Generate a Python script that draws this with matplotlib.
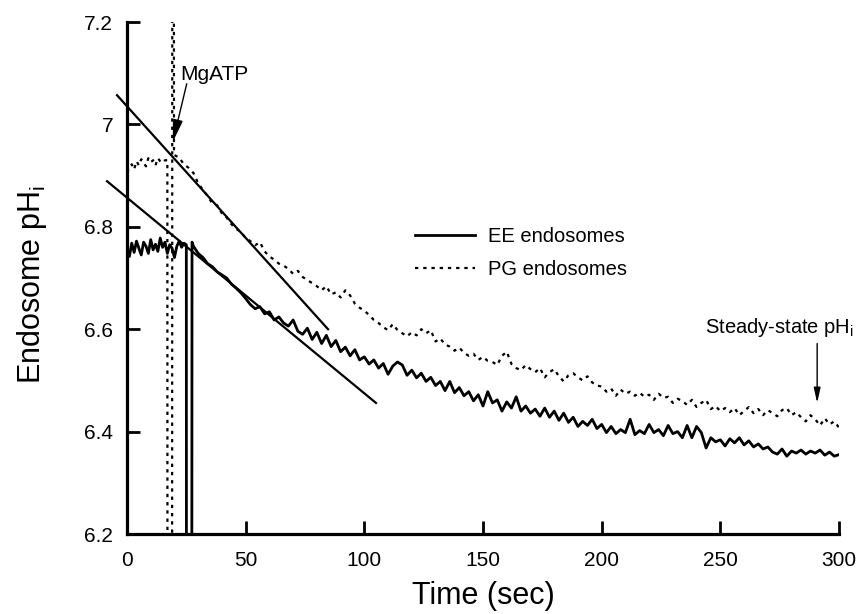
import numpy as np
import matplotlib
matplotlib.use("Agg")
import matplotlib.pyplot as plt

plt.rcParams['font.family'] = ['Liberation Sans', 'DejaVu Sans']
plt.rcParams['mathtext.fontset'] = 'custom'
plt.rcParams['mathtext.rm'] = 'Liberation Sans'
plt.rcParams['mathtext.it'] = 'Liberation Sans:italic'

# EE endosomes (solid): before MgATP (1 s steps), mixing artifact, after (2 s steps)
ee_pre = [6.755, 6.742, 6.768, 6.750, 6.772, 6.758, 6.745, 6.770, 6.762, 6.748,
          6.775, 6.755, 6.766, 6.752, 6.778, 6.760, 6.770, 6.748, 6.765, 6.758,
          6.740, 6.762, 6.772, 6.760, 6.768]
ee_spike_t = [25.0, 25.05, 27.3, 27.4]
ee_spike_ph = [6.765, 6.0, 6.0, 6.77]
ee_post = [6.762, 6.748, 6.740, 6.728, 6.722, 6.712, 6.706, 6.700, 6.688, 6.680,
           6.671, 6.660, 6.648, 6.640, 6.644, 6.630, 6.634, 6.618, 6.624, 6.612,
           6.606, 6.618, 6.596, 6.590, 6.602, 6.580, 6.594, 6.572, 6.588, 6.566,
           6.578, 6.556, 6.565, 6.548, 6.560, 6.540, 6.546, 6.532, 6.540, 6.524,
           6.533, 6.512, 6.528, 6.536, 6.530, 6.510, 6.520, 6.505, 6.514, 6.498,
           6.506, 6.490, 6.498, 6.480, 6.498, 6.476, 6.486, 6.470, 6.478, 6.460,
           6.472, 6.450, 6.478, 6.456, 6.462, 6.440, 6.458, 6.446, 6.468, 6.440,
           6.450, 6.436, 6.444, 6.430, 6.446, 6.428, 6.440, 6.422, 6.436, 6.418,
           6.428, 6.410, 6.420, 6.412, 6.424, 6.406, 6.414, 6.398, 6.410, 6.396,
           6.404, 6.398, 6.424, 6.394, 6.402, 6.396, 6.414, 6.398, 6.404, 6.392,
           6.412, 6.396, 6.400, 6.388, 6.412, 6.388, 6.410, 6.398, 6.368, 6.388,
           6.380, 6.384, 6.372, 6.386, 6.378, 6.388, 6.374, 6.382, 6.370, 6.376,
           6.366, 6.370, 6.360, 6.356, 6.366, 6.352, 6.362, 6.358, 6.364, 6.356,
           6.362, 6.358, 6.364, 6.354, 6.360, 6.352, 6.355]

# PG endosomes (dotted)
pg_pre = [6.906, 6.915, 6.922, 6.912, 6.928, 6.920, 6.932, 6.925, 6.918, 6.934,
          6.926, 6.930, 6.920, 6.934, 6.928, 6.925, 6.930]
pg_spike_t = [17.0, 17.05, 19.0, 19.1, 19.7, 19.8]
pg_spike_ph = [6.93, 6.0, 6.0, 7.6, 7.6, 6.945]
pg_post = [6.940, 6.935, 6.922, 6.915, 6.905, 6.885, 6.872, 6.860, 6.845, 6.842,
           6.826, 6.818, 6.805, 6.796, 6.790, 6.778, 6.772, 6.764, 6.770, 6.752,
           6.742, 6.736, 6.728, 6.724, 6.718, 6.708, 6.714, 6.702, 6.696, 6.690,
           6.684, 6.676, 6.684, 6.668, 6.672, 6.662, 6.676, 6.666, 6.650, 6.642,
           6.636, 6.628, 6.618, 6.612, 6.604, 6.598, 6.610, 6.598, 6.592, 6.586,
           6.594, 6.588, 6.600, 6.592, 6.598, 6.576, 6.582, 6.570, 6.566, 6.558,
           6.564, 6.554, 6.548, 6.552, 6.540, 6.546, 6.538, 6.536, 6.530, 6.548,
           6.556, 6.532, 6.524, 6.520, 6.530, 6.522, 6.516, 6.524, 6.506, 6.516,
           6.522, 6.508, 6.498, 6.510, 6.514, 6.506, 6.500, 6.508, 6.496, 6.490,
           6.488, 6.478, 6.484, 6.470, 6.482, 6.474, 6.478, 6.470, 6.476, 6.468,
           6.472, 6.462, 6.474, 6.466, 6.468, 6.456, 6.464, 6.460, 6.452, 6.462,
           6.448, 6.456, 6.462, 6.444, 6.450, 6.440, 6.446, 6.438, 6.446, 6.432,
           6.440, 6.448, 6.436, 6.444, 6.432, 6.442, 6.436, 6.430, 6.442, 6.446,
           6.432, 6.438, 6.428, 6.420, 6.432, 6.424, 6.412, 6.426, 6.414, 6.420,
           6.408]

# initial-rate fit lines
fit_upper_t = [-4.2, 84.7]
fit_upper_ph = [7.057, 6.600]
fit_lower_t = [-8.4, 104.9]
fit_lower_ph = [6.889, 6.456]

xticks = [0, 50, 100, 150, 200, 250, 300]
yticks = [6.2, 6.4, 6.6, 6.8, 7.0, 7.2]
ytick_labels = ["6.2", "6.4", "6.6", "6.8", "7", "7.2"]

ee_t = np.concatenate([np.arange(len(ee_pre)) * 1.0, ee_spike_t,
                       28 + 2.0 * np.arange(len(ee_post))])
ee_ph = np.concatenate([ee_pre, ee_spike_ph, ee_post])
pg_t = np.concatenate([np.arange(len(pg_pre)) * 1.0, pg_spike_t,
                       20 + 2.0 * np.arange(len(pg_post))])
pg_ph = np.concatenate([pg_pre, pg_spike_ph, pg_post])

W, H = 867, 614
fig = plt.figure(figsize=(W / 100, H / 100), dpi=100)
ax = fig.add_axes([127 / W, 1 - 534 / H, 712 / W, 512 / H])

ax.plot(ee_t, ee_ph, color='black', lw=2.0, label='EE endosomes')
ax.plot(pg_t, pg_ph, color='black', lw=1.6, linestyle=(0, (1.5, 2.2)),
        label='PG endosomes')
ax.plot(fit_upper_t, fit_upper_ph, color='black', lw=1.6, clip_on=False)
ax.plot(fit_lower_t, fit_lower_ph, color='black', lw=1.6, clip_on=False)

ax.set_xlim(0, 300)
ax.set_ylim(6.2, 7.2)
ax.set_xticks(xticks)
ax.set_yticks(yticks)
ax.set_yticklabels(ytick_labels)
ax.tick_params(direction='in', length=9.5, width=2, labelsize=15)
ax.tick_params(axis='x', pad=12)
ax.tick_params(axis='y', pad=10)
for s in ['top', 'right']:
    ax.spines[s].set_visible(False)
for s in ['left', 'bottom']:
    ax.spines[s].set_linewidth(2.3)

fig.text(483 / W, 1 - 596 / H, 'Time (sec)', ha='center', va='center', fontsize=22)
fig.text(32 / W, 1 - 285 / H, r'Endosome pH$_{\mathrm{i}}$', ha='center', va='center',
         rotation=90, fontsize=22)

ax.annotate('MgATP', xy=(19.3, 6.966), xytext=(22.3, 7.098), fontsize=15,
            ha='left', va='center',
            arrowprops=dict(arrowstyle='-|>,head_length=0.9,head_width=0.2',
                            color='black', lw=1, shrinkA=0, shrinkB=0,
                            patchA=None, relpos=(0.1, 0)))
ax.annotate('', xy=(290.8, 6.456), xytext=(290.8, 6.572),
            arrowprops=dict(arrowstyle='-|>,head_length=0.9,head_width=0.2',
                            color='black', lw=1, shrinkA=0, shrinkB=0))
ax.text(243.6, 6.603, r'Steady-state pH$_{\mathrm{i}}$', fontsize=14.5,
        ha='left', va='center', clip_on=False)

ax.legend(loc='center left', bbox_to_anchor=((415 - 127) / 712, (534 - 253) / 512),
          frameon=False, fontsize=14.5, handlelength=3.0, handletextpad=0.6,
          labelspacing=0.7, borderpad=0, borderaxespad=0)

fig.savefig('out.png', dpi=100)
